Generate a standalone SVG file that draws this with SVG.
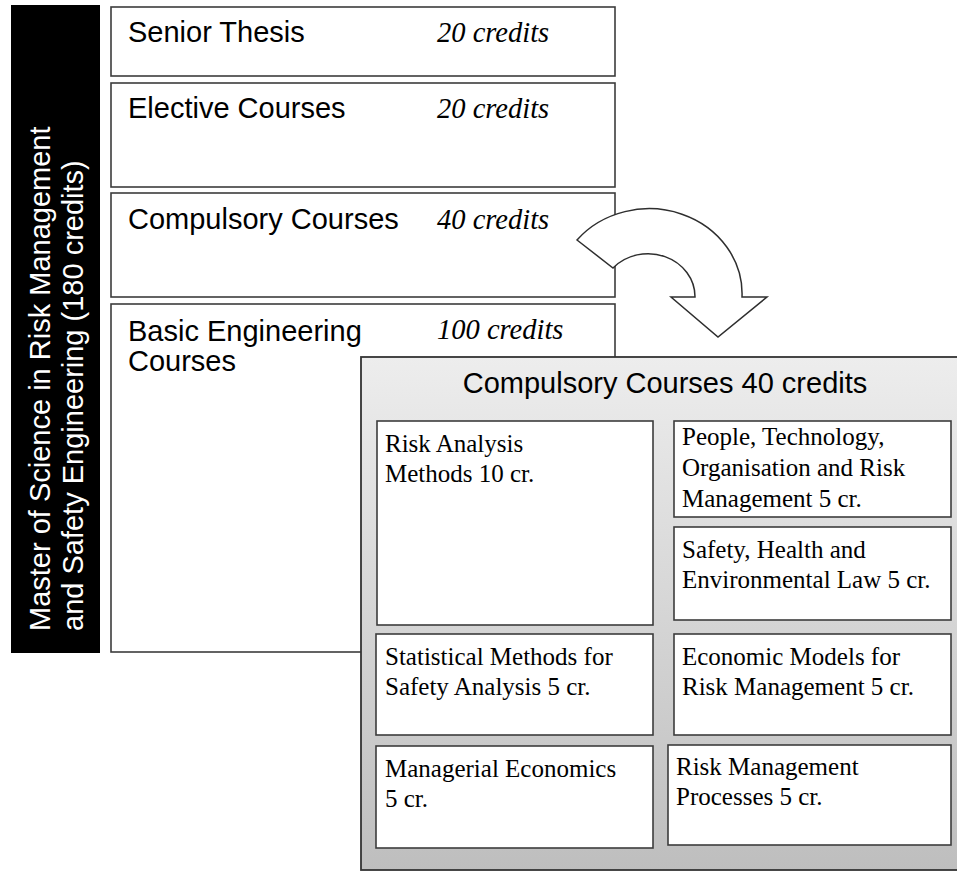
<svg xmlns="http://www.w3.org/2000/svg" width="957" height="872" viewBox="0 0 957 872">
<defs>
<linearGradient id="panelGrad" x1="0" y1="0" x2="0" y2="1">
<stop offset="0" stop-color="#ededed"/>
<stop offset="1" stop-color="#bebebe"/>
</linearGradient>
<style>
.box{fill:#ffffff;stroke:#3c3c3c;stroke-width:1.6}
.sans{font-family:"Liberation Sans",Arial,sans-serif;font-size:29px;fill:#000}
.cred{font-family:"Liberation Serif","Times New Roman",serif;font-size:28.5px;font-style:italic;fill:#000}
.serif{font-family:"Liberation Serif","Times New Roman",serif;font-size:25px;fill:#000}
.vert{font-family:"Liberation Sans",Arial,sans-serif;font-size:29px;fill:#ffffff}
</style>
</defs>
<rect width="957" height="872" fill="#ffffff"/>

<g id="program">
<rect x="11" y="5" width="89" height="648" fill="#000000"/>
<text class="vert" transform="translate(50,631) rotate(-90)">Master of Science in Risk Management</text>
<text class="vert" transform="translate(83,631) rotate(-90)">and Safety Engineering (180 credits)</text>
</g>

<g id="senior-thesis">
<rect class="box" x="111" y="7" width="504" height="69"/>
<text class="sans" x="128" y="42">Senior Thesis</text>
<text class="cred" x="437" y="42">20 credits</text>
</g>

<g id="elective">
<rect class="box" x="111" y="83" width="504" height="104"/>
<text class="sans" x="128" y="118">Elective Courses</text>
<text class="cred" x="437" y="118">20 credits</text>
</g>

<g id="compulsory">
<rect class="box" x="111" y="193" width="504" height="104"/>
<text class="sans" x="128" y="229">Compulsory Courses</text>
<text class="cred" x="437" y="229">40 credits</text>
</g>

<g id="basic">
<rect class="box" x="111" y="304" width="504" height="348"/>
<text class="sans" x="128" y="341">Basic Engineering</text>
<text class="sans" x="128" y="371">Courses</text>
<text class="cred" x="437" y="339">100 credits</text>
</g>

<g id="connectors">
<path d="M577,240 A93,85 0 0 1 742,297 L767,297 L718,337 L671,297 L695,297 A47,43 0 0 0 613,268 Z" fill="#ffffff" stroke="#2e2e2e" stroke-width="1.5" stroke-linejoin="miter"/>
</g>

<g id="compulsory-detail">
<rect x="361" y="357" width="600" height="513" fill="url(#panelGrad)" stroke="#333333" stroke-width="1.8"/>
<text class="sans" x="665" y="393" text-anchor="middle">Compulsory Courses 40 credits</text>
</g>

<g id="risk-analysis">
<rect class="box" x="377" y="421" width="276" height="204"/>
<text class="serif" x="385" y="452">Risk Analysis</text>
<text class="serif" x="385" y="482">Methods 10 cr.</text>
</g>

<g id="people-tech">
<rect class="box" x="674" y="421" width="277" height="96"/>
<text class="serif" x="682" y="445">People, Technology,</text>
<text class="serif" x="682" y="476">Organisation and Risk</text>
<text class="serif" x="682" y="507">Management 5 cr.</text>
</g>

<g id="safety-law">
<rect class="box" x="674" y="527" width="277" height="93"/>
<text class="serif" x="682" y="558">Safety, Health and</text>
<text class="serif" x="682" y="588">Environmental Law 5 cr.</text>
</g>

<g id="statistical">
<rect class="box" x="376" y="634" width="277" height="101"/>
<text class="serif" x="385" y="665">Statistical Methods for</text>
<text class="serif" x="385" y="695">Safety Analysis 5 cr.</text>
</g>

<g id="economic">
<rect class="box" x="674" y="634" width="277" height="101"/>
<text class="serif" x="682" y="665">Economic Models for</text>
<text class="serif" x="682" y="695">Risk Management 5 cr.</text>
</g>

<g id="managerial">
<rect class="box" x="376" y="746" width="277" height="102"/>
<text class="serif" x="385" y="777">Managerial Economics</text>
<text class="serif" x="385" y="807">5 cr.</text>
</g>

<g id="risk-processes">
<rect class="box" x="668" y="745" width="283" height="100"/>
<text class="serif" x="676" y="775">Risk Management</text>
<text class="serif" x="676" y="805">Processes 5 cr.</text>
</g>
</svg>
